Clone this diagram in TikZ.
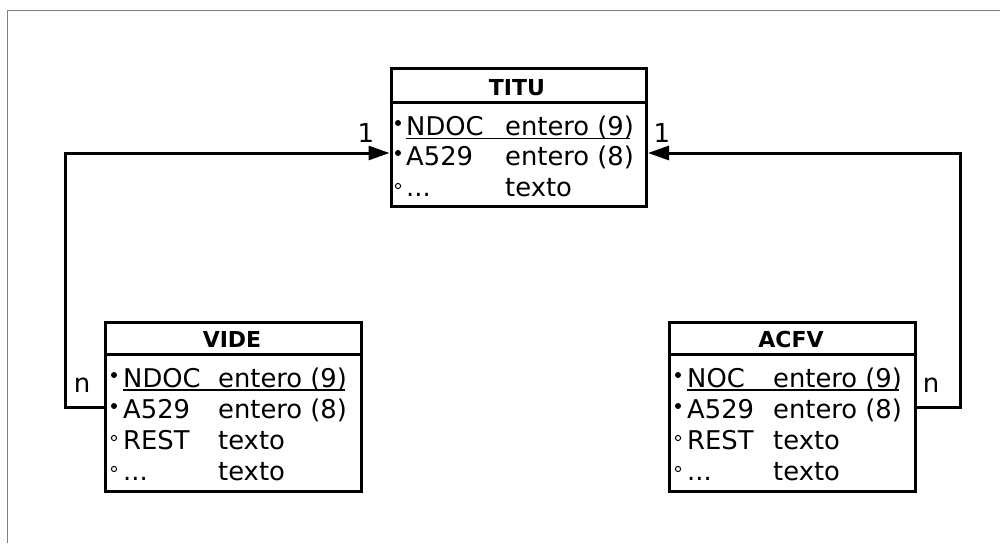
\documentclass[tikz,border=0pt]{standalone}
\usepackage{fontspec}
\setmainfont{DejaVu Sans}
\usetikzlibrary{arrows.meta}
\begin{document}
\begin{tikzpicture}[x=1pt,y=-1pt,
  tbl/.style={draw, line width=3pt, anchor=north west, inner sep=0pt},
  hdr/.style={anchor=base, font=\fontsize{22}{24}\selectfont\bfseries, inner sep=0pt},
  cell/.style={anchor=base west, font=\fontsize{25.8}{28}\selectfont, inner sep=0pt},
  lbl/.style={anchor=base, font=\fontsize{26}{28}\selectfont, inner sep=0pt},
  conn/.style={line width=3pt},
  keydot/.style={fill=black, draw=none},
  optdot/.style={draw=black, line width=1pt, fill=white},
  uline/.style={line width=1.5pt}]
\useasboundingbox (0,0) rectangle (1000,543);
\draw[gray, line width=1.5pt] (7.5,543) -- (7.5,10.5) -- (1000,10.5);

% TITU
\node[tbl, minimum width=255.5pt, minimum height=138.5pt] (titu) at (389.5,66.5) {};
\draw[line width=3pt] (titu.west |- 0,102.7) -- (titu.east |- 0,102.7);
\node[hdr] (tituh) at (517,95) {TITU};
\fill[keydot] (398,123) circle (3);
\node[cell] (titu-n1) at (406,135) {NDOC};
\node[cell] (titu-t1) at (505,135) {entero (9)};
\draw[uline] (406,138.5) -- (630,138.5);
\fill[keydot] (398,153) circle (3);
\node[cell] (titu-n2) at (406,165) {A529};
\node[cell] (titu-t2) at (505,165) {entero (8)};
\draw[optdot] (398,186) circle (2.6);
\node[cell] (titu-n3) at (406,196) {...};
\node[cell] (titu-t3) at (505,196) {texto};

% VIDE
\node[tbl, minimum width=256pt, minimum height=169pt] (vide) at (104,321) {};
\draw[line width=3pt] (vide.west |- 0,354) -- (vide.east |- 0,354);
\node[hdr] (videh) at (232,347) {VIDE};
\fill[keydot] (114,375) circle (3);
\node[cell] (vide-n1) at (123,387) {NDOC};
\node[cell] (vide-t1) at (218,387) {entero (9)};
\draw[uline] (123,390) -- (345,390);
\fill[keydot] (114,406) circle (3);
\node[cell] (vide-n2) at (123,418) {A529};
\node[cell] (vide-t2) at (218,418) {entero (8)};
\draw[optdot] (114,438) circle (2.6);
\node[cell] (vide-n3) at (123,449) {REST};
\node[cell] (vide-t3) at (218,449) {texto};
\draw[optdot] (114,469) circle (2.6);
\node[cell] (vide-n4) at (123,480) {...};
\node[cell] (vide-t4) at (218,480) {texto};

% ACFV
\node[tbl, minimum width=246pt, minimum height=169pt] (acfv) at (668,321) {};
\draw[line width=3pt] (acfv.west |- 0,354) -- (acfv.east |- 0,354);
\node[hdr] (acfvh) at (791,347) {ACFV};
\fill[keydot] (678,375) circle (3);
\node[cell] (acfv-n1) at (687,387) {NOC};
\node[cell] (acfv-t1) at (773,387) {entero (9)};
\draw[uline] (687,390) -- (899,390);
\fill[keydot] (678,406) circle (3);
\node[cell] (acfv-n2) at (687,418) {A529};
\node[cell] (acfv-t2) at (773,418) {entero (8)};
\draw[optdot] (678,438) circle (2.6);
\node[cell] (acfv-n3) at (687,449) {REST};
\node[cell] (acfv-t3) at (773,449) {texto};
\draw[optdot] (678,469) circle (2.6);
\node[cell] (acfv-n4) at (687,480) {...};
\node[cell] (acfv-t4) at (773,480) {texto};

% connectors
\coordinate (lc) at (65,153);
\coordinate (rc) at (960,153);
\draw[conn, -{Triangle[length=21pt,width=14pt]}] (vide.west |- 0,407) -| (lc) -- (titu.west |- lc);
\draw[conn, -{Triangle[length=21pt,width=14pt]}] (acfv.east |- 0,407) -| (rc) -- (titu.east |- rc);

\node[lbl] (l1) at (366,142) {1};
\node[lbl] (r1) at (662,142) {1};
\node[lbl] (ln) at (82,392) {n};
\node[lbl] (rn) at (931,392) {n};
\end{tikzpicture}
\end{document}
